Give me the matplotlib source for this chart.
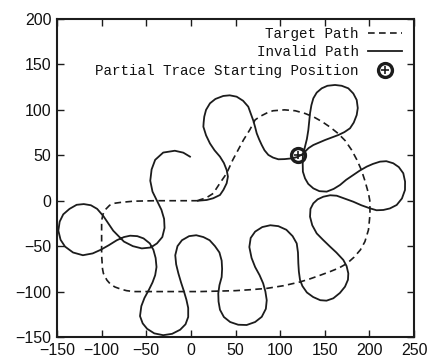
import matplotlib
matplotlib.use("Agg")
import matplotlib.pyplot as plt
from matplotlib.lines import Line2D
from matplotlib.legend_handler import HandlerTuple
from matplotlib.font_manager import FontProperties

# ---- data ----
target_x = [8, 0, -20, -40, -64, -79, -87, -91, -96, -98.5, -100, -100, -100, -99, -98, -96, -94, -90, -85, -78, -72,
            -64, -57, -30, 0, 10, 30, 50, 66, 85, 104, 122, 133.5, 145, 156, 166, 175, 183, 190, 195, 199, 200.7,
            200.5, 199, 195, 191, 186, 180, 173, 165, 156, 147, 138, 128, 117, 105, 92, 86, 78, 72, 66, 59, 53, 47,
            40, 33, 25, 17, 10, 8]
target_y = [0, 0, 0, 0, -0.5, -1.9, -3, -5, -10, -15, -22, -40, -60, -75, -80, -84, -87.5, -92, -95, -97.5, -99,
            -100, -100, -100, -100, -100, -99.5, -99, -98, -96.5, -93.5, -89.5, -86, -82, -78, -74, -69, -62, -54,
            -45, -32, -15, 0, 8, 22, 34, 45, 56, 66, 74, 81, 87, 92, 96, 99, 100, 99, 97, 93, 89, 78, 67, 56, 45,
            30, 20, 8, 3, 1, 0]

invalid_x = [-1, -8.5, -18, -31, -40, -44, -45.5, -43, -38, -33, -30, -29.5, -32, -38, -45, -55, -65, -75, -87, -98,
             -105, -112, -120, -128, -136, -143, -147, -148.5, -146, -141, -132, -121, -110, -101, -92, -83, -75, -68,
             -60, -53, -46, -42, -39.5, -38.5, -40, -43, -47, -52, -55.5, -57, -54, -49, -41, -31, -21, -12, -6, -3,
             -3, -5, -8, -11, -14, -16.5, -17.5, -15, -10, -2, 6, 14, 21, 27, 32, 34.5, 35, 34.5, 32, 30.7, 31, 32.6,
             37, 44, 53, 62.5, 72, 79.4, 84, 85, 83.5, 81, 77, 72, 68, 65.5, 67, 72, 80, 89, 98, 107, 114, 118.6, 120,
             120.4, 121, 122.3, 125, 130, 137, 145, 152, 159.6, 167, 172.7, 176, 176.4, 174.5, 170.8, 163, 156, 148,
             141, 136, 133.5, 134, 137.2, 142, 148.4, 156, 163.4, 172, 182, 191, 200.7, 208, 215.6, 223, 230.6, 236.5,
             239.9, 240, 238, 233, 226.8, 219, 211.9, 204, 197, 189, 182, 174, 167.1, 160, 152.2, 144, 137.2, 131.5,
             127.9, 125.5, 125.3, 125.5, 127.9, 130, 131.6, 132.5, 133.5, 135, 137.2, 141, 146.6, 153, 161.5, 169,
             176.4, 182, 185.8, 187, 185.8, 182.5, 178.3, 172, 165.2, 157.5, 150.3, 143.5, 137.2, 132, 127.9, 124,
             119, 113, 105, 98, 92, 86.8, 82.5, 79.4, 76.5, 73.8, 72, 70, 67, 64.3, 58.5, 51.3, 43.5, 36.3, 27.5,
             21.4, 17, 15, 14.3, 14, 17, 21.4, 26.5, 32.6, 37, 40.1, 41.5, 40.1, 36.5, 32.6, 25, 17.7, 8]
invalid_y = [48.5, 52.9, 55, 53, 45, 34.4, 22, 10, 0, -10, -20, -30, -40, -47, -51.5, -52.5, -50, -45, -33, -17,
             -9, -5, -3.7, -4.5, -9, -15, -23, -33, -43, -50.5, -57, -60, -58, -54, -49, -43.5, -40, -38.5, -39,
             -41.5, -47, -54, -63, -73, -82, -90, -98, -107, -116, -127, -135, -141, -146, -148, -146.5, -142, -136,
             -128, -118, -109, -99, -90, -80, -70, -60, -50, -43.5, -39, -38, -40, -43.5, -50, -57, -66, -75, -84,
             -93, -102, -111, -120, -128, -133.5, -136.5, -136.8, -133.5, -127.8, -119, -109.5, -100, -91, -82, -73,
             -63, -51, -41, -34, -29, -27, -28, -32, -39, -47, -57, -69, -78, -87.3, -94, -101, -106, -109.5, -110,
             -107.4, -101.5, -94.6, -87, -80, -72, -65.2, -57, -50.6, -43, -36, -27, -17.6, -9, -2.9, 1.5, 4.4, 6,
             5.5, 2.5, -1.1, -5, -8.4, -10.5, -10.2, -8.5, -4.7, 2.5, 11.8, 21, 30.2, 37, 41.2, 43.5, 43, 40.5, 37.5,
             33, 28.3, 23, 17.3, 13, 10, 10.5, 13.6, 18.5, 24.6, 32, 41.2, 50, 59.4, 68, 77.8, 87, 96.2, 105, 112.7,
             119, 123.7, 126.5, 127.4, 126.5, 123.7, 118, 110.9, 102, 94.3, 86, 79.7, 75.5, 72.3, 69.5, 66.8, 64,
             61.3, 58, 54, 50.5, 48, 46.6, 45.8, 45.6, 47.5, 50.4, 55.5, 61.3, 67.5, 74.1, 81, 88, 96, 103.5, 110,
             114.5, 116, 115.3, 112, 107.2, 100, 92.5, 86, 81.4, 72, 63, 55.5, 48.5, 41.5, 33.8, 26.5, 19.2, 12, 6.3,
             2.7, 0.8, 0]

start_x = [120]
start_y = [50]

x_ticks = [-150, -100, -50, 0, 50, 100, 150, 200, 250]
y_ticks = [-150, -100, -50, 0, 50, 100, 150, 200]

labels = ["Target Path", "Invalid Path", "Partial Trace Starting Position"]

# ---- figure ----
ink = "#1c1c1c"
fig = plt.figure(figsize=(4.3, 3.6), dpi=100)
ax = fig.add_axes([57 / 430, 1 - 337 / 360, (414 - 57) / 430, (337 - 19) / 360])

ax.plot(target_x, target_y, color=ink, lw=1.2, dashes=(4, 2.6))
ax.plot(invalid_x, invalid_y, color=ink, lw=1.3, solid_joinstyle="round")
ring, = ax.plot(start_x, start_y, ls="none", marker="o", ms=10, mfc="none", mec=ink, mew=2.4)
plus, = ax.plot(start_x, start_y, ls="none", marker="+", ms=6, mec=ink, mew=1.2)

ax.set_xlim(-150, 250)
ax.set_ylim(-150, 200)
ax.set_xticks(x_ticks)
ax.set_yticks(y_ticks)

tick_font = ["Liberation Sans", "DejaVu Sans"]
for lab in ax.get_xticklabels() + ax.get_yticklabels():
    lab.set_family(tick_font)
    lab.set_fontsize(11.5)
    lab.set_color("#111111")
ax.tick_params(direction="in", top=True, right=True, length=5, width=1.0, color=ink, pad=4)
for s in ax.spines.values():
    s.set_linewidth(1.5)
    s.set_color(ink)

h_target = Line2D([], [], color=ink, lw=1.2, dashes=(4, 2.6))
h_invalid = Line2D([], [], color=ink, lw=1.3)
leg = ax.legend([h_target, h_invalid, (ring, plus)], labels,
                handler_map={tuple: HandlerTuple(ndivide=1, pad=0)},
                loc="upper right", bbox_to_anchor=(0.984, 0.995),
                frameon=False, markerfirst=False,
                prop=FontProperties(family=["Liberation Mono", "DejaVu Sans Mono"], size=10.3),
                handlelength=2.4, handletextpad=0.6, labelspacing=0.3,
                borderaxespad=0.25, borderpad=0.2)
for t in leg.get_texts():
    t.set_color("#111111")

fig.savefig("out.png", dpi=100, facecolor="white")
